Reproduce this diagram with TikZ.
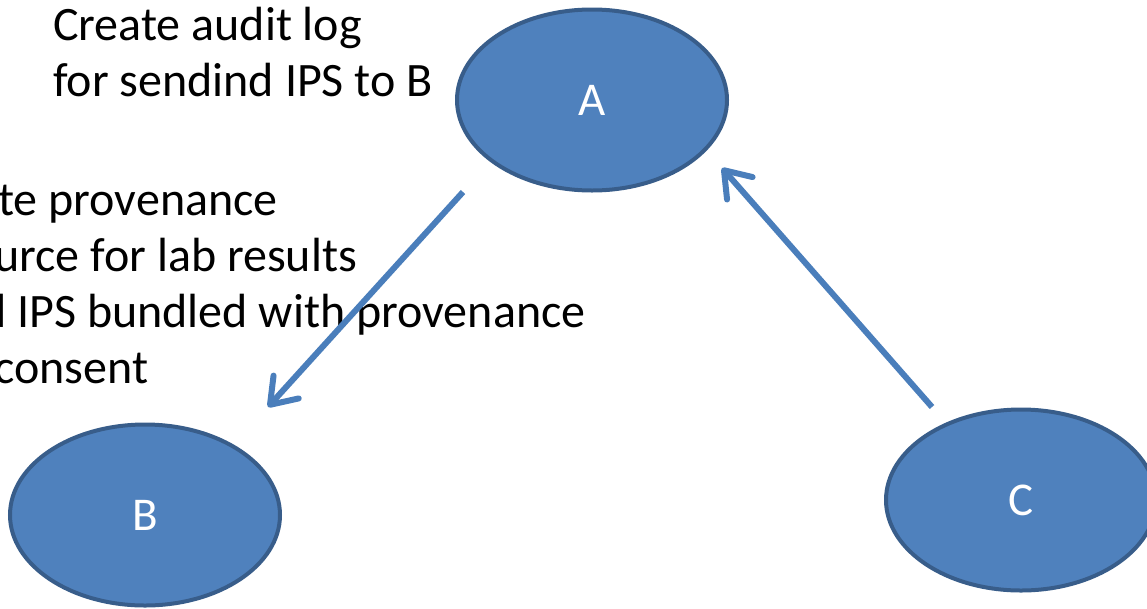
\documentclass[tikz,border=0pt]{standalone}
\usepackage{fontspec}
\setmainfont{Carlito}
\usetikzlibrary{shapes.geometric,arrows.meta,calc}

\definecolor{nodefill}{HTML}{4F81BD}
\definecolor{nodeline}{HTML}{385D8A}
\definecolor{arrowblue}{HTML}{4A7EBB}

\tikzset{
  party/.style={ellipse, draw=nodeline, line width=4pt, fill=nodefill,
    minimum width=270pt, minimum height=181pt, inner sep=0pt,
    text=white, font=\fontsize{47}{56}\selectfont},
  note/.style={anchor=base west, inner sep=0pt, text=black,
    font=\fontsize{48}{56}\selectfont},
  flow/.style={draw=arrowblue, line width=6pt,
    -{Straight Barb[length=24pt, width=34pt, round]}},
}

\begin{document}
\begin{tikzpicture}[x=1pt, y=-1pt]
  \useasboundingbox (0,0) rectangle (1147,608);
  \clip (0,0) rectangle (1147,608);

  % the three parties
  \node[party] (A) at (592,100) {A};
  \node[party] (B) at (145,515) {B};
  \node[party] (C) at (1021,500) {C};

  % notes on what A does
  \node[note] (n1) at (53,40) {Create audit log};
  \node[note] (n2) at (53,96) {for sendind IPS to B};

  \node[note] (m1) at (-90,215) {Create provenance};
  \node[note] (m2) at (-90,271) {resource for lab results};
  \node[note] (m3) at (-90,327) {Send IPS bundled with provenance};
  \node[note] (m4) at (-90,383) {and consent};

  % ends of the two messages
  \coordinate (ab0) at ($(A)+(-129,92)$);
  \coordinate (ab1) at ($(B)+(123,-108)$);
  \coordinate (ca0) at ($(C)+(-89,-93)$);
  \coordinate (ca1) at ($(A)+(130,68)$);

  \draw[flow] (ab0) -- (ab1);
  \draw[flow] (ca0) -- (ca1);
\end{tikzpicture}
\end{document}
